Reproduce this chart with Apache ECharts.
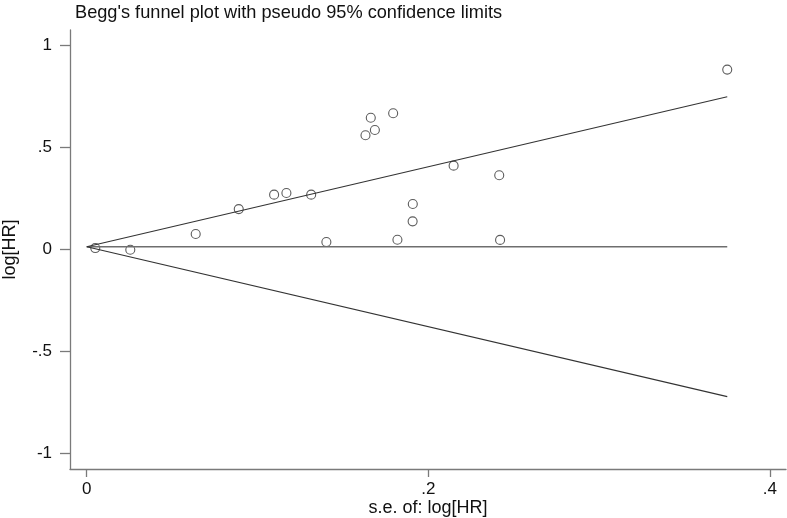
<!DOCTYPE html>
<html>
<head>
<meta charset="utf-8">
<script src="https://cdn.jsdelivr.net/npm/echarts@6/dist/echarts.min.js"></script>
<style>
html,body{margin:0;padding:0;background:#fff;}
#chart{width:787px;height:518px;}
</style>
</head>
<body>
<div id="chart"></div>
<script>
// Study data: standard error of log[HR] and log[HR]
const seValues = [0.0050, 0.0255, 0.0638, 0.0890, 0.1097, 0.1169, 0.1314, 0.1403, 0.1632, 0.1663,
                  0.1687, 0.1794, 0.1819, 0.1909, 0.1908, 0.2148, 0.2415, 0.2420, 0.3750];
const logHR    = [0.008, 0.000, 0.077, 0.199, 0.270, 0.278, 0.270, 0.038, 0.561, 0.647,
                  0.587, 0.669, 0.049, 0.224, 0.139, 0.412, 0.365, 0.048, 0.883];
// Pooled estimate and pseudo 95% limits range
const pooledEstimate = 0.0147;
const limitSeRange = [0, 0.375];
const z95 = 1.96;
// Tick labels
const xTicks = [0, 0.2, 0.4];
const yTicks = [-1, -0.5, 0, 0.5, 1];

const fmt = v => {
  if (v === 0) return '0';
  return String(v).replace('0.', '.');
};

const font = '"Liberation Sans", Arial, Helvetica, sans-serif';
const axisGrey = '#7a7a7a';
const textCol = '#111';

const points = seValues.map((s, i) => [s, logHR[i]]);
const upper = limitSeRange.map(s => [s, pooledEstimate + z95 * s]);
const lower = limitSeRange.map(s => [s, pooledEstimate - z95 * s]);
const center = limitSeRange.map(s => [s, pooledEstimate]);

const chart = echarts.init(document.getElementById('chart'), null, {renderer: 'canvas'});
chart.setOption({
  animation: false,
  backgroundColor: '#fff',
  title: {
    text: "Begg's funnel plot with pseudo 95% confidence limits",
    left: 70, top: -1,
    textStyle: {fontFamily: font, fontSize: 18.2, fontWeight: 'normal', color: textCol}
  },
  grid: {left: 70, right: 1, top: 30, bottom: 49, containLabel: false, outerBoundsMode: 'none'},
  xAxis: {
    type: 'value',
    min: -0.0098, max: 0.4094,
    name: 's.e. of: log[HR]',
    nameLocation: 'middle', nameGap: 30, nameMoveOverlap: false,
    nameTextStyle: {fontFamily: font, fontSize: 18, color: textCol},
    splitLine: {show: false},
    axisLine: {show: true, onZero: false, lineStyle: {color: axisGrey, width: 1.3}},
    axisTick: {show: true, length: 8, customValues: xTicks, lineStyle: {color: axisGrey, width: 1.3}},
    axisLabel: {customValues: xTicks, formatter: fmt, margin: 12, fontFamily: font, fontSize: 17, color: textCol}
  },
  yAxis: {
    type: 'value',
    min: -1.075, max: 1.077,
    name: 'log[HR]',
    nameLocation: 'middle', nameGap: 51, nameRotate: 90, nameMoveOverlap: false,
    nameTextStyle: {fontFamily: font, fontSize: 18, color: textCol},
    splitLine: {show: false},
    axisLine: {show: true, onZero: false, lineStyle: {color: axisGrey, width: 1.3}},
    axisTick: {show: true, length: 10, customValues: yTicks, lineStyle: {color: axisGrey, width: 1.3}},
    axisLabel: {customValues: yTicks, formatter: fmt, margin: 18, fontFamily: font, fontSize: 17, color: textCol}
  },
  series: [
    {type: 'line', data: center, symbol: 'none', silent: true,
     lineStyle: {color: '#6e6e6e', width: 1.6}},
    {type: 'line', data: upper, symbol: 'none', silent: true,
     lineStyle: {color: '#333', width: 1.1}},
    {type: 'line', data: lower, symbol: 'none', silent: true,
     lineStyle: {color: '#333', width: 1.1}},
    {type: 'scatter', data: points, symbol: 'circle', symbolSize: 9,
     itemStyle: {color: 'rgba(255,255,255,0)', borderColor: '#333', borderWidth: 1.1}}
  ]
});
</script>
</body>
</html>
